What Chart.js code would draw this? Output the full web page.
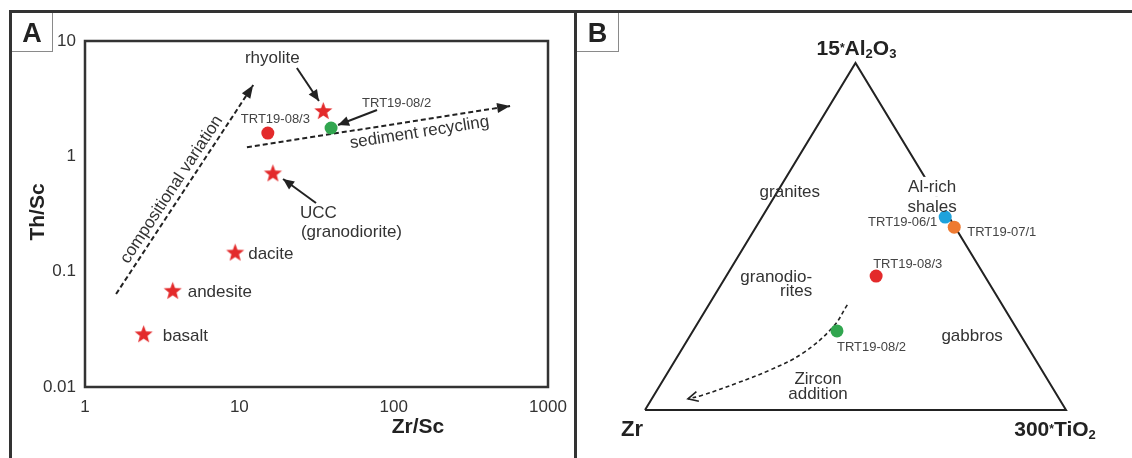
<!DOCTYPE html>
<html>
<head>
<meta charset="utf-8">
<title>Th/Sc vs Zr/Sc and 15Al2O3-300TiO2-Zr</title>
<script src="https://cdn.jsdelivr.net/npm/chart.js@4.4.1/dist/chart.umd.min.js"></script>
<style>
body { margin: 0; background: #fff; }
#wrap { position: relative; width: 1132px; height: 458px; overflow: hidden; font-family: "Liberation Sans", Arial, sans-serif; }
canvas { position: absolute; top: 0; }
#chartA { left: 0; }
#chartB { left: 577px; }
.line { position: absolute; background: #333; }
.tag { position: absolute; top: 13px; height: 38px; border-right: 1px solid #8a8a8a; border-bottom: 1px solid #8a8a8a;
       font-weight: bold; font-size: 27px; line-height: 40px; text-align: center; color: #222; }
</style>
</head>
<body>
<div id="wrap">
	<canvas id="chartA" width="574" height="458"></canvas>
	<canvas id="chartB" width="555" height="458"></canvas>
	<div class="line" style="left:9px;top:10px;width:1123px;height:3px"></div>
	<div class="line" style="left:9px;top:10px;width:3px;height:448px"></div>
	<div class="line" style="left:574px;top:10px;width:3px;height:448px"></div>
	<div class="tag" style="left:12px;width:40px">A</div>
	<div class="tag" style="left:577px;width:41px">B</div>
</div>
<script>
// ---- panel A : Th/Sc vs Zr/Sc (log-log) ----
const rockNames = ["basalt", "andesite", "dacite", "UCC", "rhyolite"];
const rockZrSc = [2.4, 3.7, 9.4, 16.5, 35];
const rockThSc = [0.029, 0.069, 0.148, 0.72, 2.5];
const sampleNamesA = ["TRT19-08/3", "TRT19-08/2"];
const sampleZrScA = [15.3, 39.3];
const sampleThScA = [1.59, 1.76];
const xTicksA = [1, 10, 100, 1000];
const yTicksA = [0.01, 0.1, 1, 10];
// trend arrows (start, end)
const compVarZr = [1.59, 12.3];
const compVarTh = [0.064, 4.15];
const sedRecZr = [11.2, 568];
const sedRecTh = [1.2, 2.73];
// pointer arrows: rhyolite, TRT19-08/2, UCC
const pointerZr = [[23.6, 32.8], [78, 43.6], [31.4, 19.2]];
const pointerTh = [[5.83, 3.02], [2.52, 1.87], [0.394, 0.636]];

// ---- panel B : 15*Al2O3 - 300*TiO2 - Zr ternary (fractions) ----
const ternNames = ["TRT19-06/1", "TRT19-07/1", "TRT19-08/3", "TRT19-08/2"];
const ternAl = [0.556, 0.527, 0.386, 0.228];
const ternTi = [0.435, 0.471, 0.356, 0.342];
const ternZr = [0.009, 0.002, 0.258, 0.430];
// zircon addition trend
const zirAl = [0.303, 0.239, 0.164, 0.115, 0.078, 0.043, 0.032];
const zirTi = [0.329, 0.327, 0.293, 0.239, 0.180, 0.116, 0.086];
const zirZr = [0.368, 0.434, 0.543, 0.646, 0.742, 0.841, 0.882];

const FONT = '"Liberation Sans", Arial, sans-serif';
const RED = "#e32a2b";
const GREEN = "#31a64f";
const BLUE = "#1ea2dc";
const ORANGE = "#ee7a31";
const INK = "#222";
const TXT = "#333";

function pairs(xs, ys) {
	return xs.map((v, i) => ({ x: v, y: ys[i] }));
}
// ternary -> cartesian (Zr at left, TiO2 at right, Al2O3 at top)
function tern(al, ti, zr) {
	let s = al + ti + zr;
	return { x: (ti + al / 2) / s, y: al / s };
}

function makeStar(r, color) {
	let c = document.createElement("canvas");
	c.width = c.height = Math.ceil(r * 2) + 2;
	let ctx = c.getContext("2d");
	let cx = c.width / 2, cy = c.height / 2 + r * 0.1;
	ctx.beginPath();
	for (let i = 0; i < 10; i++) {
		let rad = i % 2 ? r * 0.42 : r;
		let a = -Math.PI / 2 + i * Math.PI / 5;
		ctx.lineTo(cx + rad * Math.cos(a), cy + rad * Math.sin(a));
	}
	ctx.closePath();
	ctx.fillStyle = color;
	ctx.fill();
	return c;
}

function label(ctx, str, x, y, opt) {
	opt = opt || {};
	ctx.save();
	ctx.font = (opt.bold ? "bold " : "") + (opt.size || 17) + "px " + FONT;
	ctx.fillStyle = opt.color || TXT;
	ctx.textAlign = opt.align || "left";
	ctx.textBaseline = "middle";
	ctx.translate(x, y);
	if (opt.rot) ctx.rotate(opt.rot);
	ctx.fillText(str, 0, 0);
	ctx.restore();
}

// parts: [text, relative size, dy]
function richLabel(ctx, parts, cx, cy, size) {
	ctx.save();
	ctx.fillStyle = INK;
	ctx.textBaseline = "alphabetic";
	let w = 0;
	for (const p of parts) {
		ctx.font = "bold " + Math.round(size * p[1]) + "px " + FONT;
		w += ctx.measureText(p[0]).width;
	}
	let x = cx - w / 2;
	let base = cy + size * 0.36;
	for (const p of parts) {
		ctx.font = "bold " + Math.round(size * p[1]) + "px " + FONT;
		ctx.fillText(p[0], x, base + p[2]);
		x += ctx.measureText(p[0]).width;
	}
	ctx.restore();
}

function drawArrowHeads(chart) {
	let ctx = chart.ctx;
	chart.data.datasets.forEach((ds, i) => {
		if (!ds.arrow) return;
		let pts = chart.getDatasetMeta(i).data;
		let p1 = pts[pts.length - 2], p2 = pts[pts.length - 1];
		let a = Math.atan2(p2.y - p1.y, p2.x - p1.x);
		let len = ds.arrow == "open" ? 10 : (ds.headLen || 13);
		let half = ds.arrow == "open" ? 5 : (ds.headHalf || 5);
		let bx = p2.x - len * Math.cos(a), by = p2.y - len * Math.sin(a);
		ctx.save();
		ctx.beginPath();
		ctx.moveTo(bx + half * Math.sin(a), by - half * Math.cos(a));
		ctx.lineTo(p2.x, p2.y);
		ctx.lineTo(bx - half * Math.sin(a), by + half * Math.cos(a));
		if (ds.arrow == "open") {
			ctx.strokeStyle = INK;
			ctx.lineWidth = 1.6;
			ctx.stroke();
		} else {
			ctx.closePath();
			ctx.fillStyle = INK;
			ctx.fill();
		}
		ctx.restore();
	});
}

function lineAngle(chart, dsIndex) {
	let pts = chart.getDatasetMeta(dsIndex).data;
	let p1 = pts[0], p2 = pts[pts.length - 1];
	return { ang: Math.atan2(p2.y - p1.y, p2.x - p1.x), mx: (p1.x + p2.x) / 2, my: (p1.y + p2.y) / 2 };
}

// offsets of labels from their points (pixels)
const labelsA = [
	{ ds: 0, i: 0, text: rockNames[0], dx: 19, dy: 3 },
	{ ds: 0, i: 1, text: rockNames[1], dx: 15, dy: 2 },
	{ ds: 0, i: 2, text: rockNames[2], dx: 13, dy: 2 },
	{ ds: 0, i: 3, text: rockNames[3], dx: 27, dy: 41 },
	{ ds: 0, i: 3, text: "(granodiorite)", dx: 28, dy: 60 },
	{ ds: 0, i: 4, text: rockNames[4], dx: -51, dy: -52, align: "center" },
	{ ds: 1, i: 0, text: sampleNamesA[0], dx: -27, dy: -14, size: 13 },
	{ ds: 1, i: 1, text: sampleNamesA[1], dx: 31, dy: -25, size: 13 }
];

const panelA = {
	id: "panelA",
	afterDatasetsDraw(chart) {
		let ctx = chart.ctx, a = chart.chartArea;
		ctx.save();
		ctx.strokeStyle = "#333";
		ctx.lineWidth = 2.5;
		ctx.strokeRect(a.left, a.top, a.right - a.left, a.bottom - a.top);
		ctx.restore();
		drawArrowHeads(chart);

		for (const l of labelsA) {
			let p = chart.getDatasetMeta(l.ds).data[l.i];
			label(ctx, l.text, p.x + l.dx, p.y + l.dy, { align: l.align, size: l.size, color: l.size ? "#444" : TXT });
		}
		let cv = lineAngle(chart, 2);
		label(ctx, "compositional variation", cv.mx - 13, cv.my, { align: "center", rot: cv.ang });
		let sr = lineAngle(chart, 3);
		label(ctx, "sediment recycling", sr.mx + 41, sr.my + 6, { align: "center", rot: sr.ang });

		label(ctx, "Zr/Sc", a.left + 333, a.bottom + 40, { bold: true, size: 21, align: "center", color: INK });
		label(ctx, "Th/Sc", a.left - 47, (a.top + a.bottom) / 2 - 2, { bold: true, size: 21, align: "center", color: INK, rot: -Math.PI / 2 });
	}
};

const starImg = makeStar(9.5, RED);

let datasetsA = [
	{ data: pairs(rockZrSc, rockThSc), pointStyle: starImg, pointRadius: 9 },
	{ data: pairs(sampleZrScA, sampleThScA), pointStyle: "circle", pointRadius: 6.5, backgroundColor: [RED, GREEN], borderWidth: 0 },
	{ data: pairs(compVarZr, compVarTh), showLine: true, borderColor: INK, borderWidth: 2, borderDash: [5, 3], pointRadius: 0, arrow: "fill" },
	{ data: pairs(sedRecZr, sedRecTh), showLine: true, borderColor: INK, borderWidth: 2, borderDash: [5, 3], pointRadius: 0, arrow: "fill" }
];
for (let k = 0; k < pointerZr.length; k++) {
	datasetsA.push({ data: pairs(pointerZr[k], pointerTh[k]), showLine: true, borderColor: INK, borderWidth: 2,
		pointRadius: 0, arrow: "fill", headLen: 11, headHalf: 5 });
}

function logAxis(ticks, extra) {
	return Object.assign({
		type: "logarithmic",
		min: ticks[0],
		max: ticks[ticks.length - 1],
		afterBuildTicks: (s) => { s.ticks = ticks.map(v => ({ value: v })); },
		grid: { display: false, drawTicks: false },
		border: { display: false },
		ticks: { font: { size: 17, family: FONT }, color: TXT, autoSkip: false, maxRotation: 0, callback: (v) => String(v) }
	}, extra);
}

let xA = logAxis(xTicksA, { position: "bottom", afterFit: (s) => { s.height = 40; s.paddingLeft = 0; s.paddingRight = 0; } });
xA.ticks.padding = 10;
let yA = logAxis(yTicksA, { position: "left", afterFit: (s) => { s.width = 50; s.paddingTop = 0; s.paddingBottom = 0; } });
yA.ticks.padding = 9;

new Chart(document.getElementById("chartA"), {
	type: "scatter",
	data: { datasets: datasetsA },
	options: {
		responsive: false,
		animation: false,
		events: [],
		layout: { padding: { left: 35, right: 26, top: 41, bottom: 31 } },
		plugins: { legend: { display: false }, tooltip: { enabled: false } },
		scales: { x: xA, y: yA }
	},
	plugins: [panelA]
});

// ---- panel B ----
const regionLabelsB = [
	{ text: "granites", x: 0.344, y: 0.628, align: "center" },
	{ text: "granodio-", x: 0.397, y: 0.383, align: "right" },
	{ text: "rites", x: 0.397, y: 0.343, align: "right" },
	{ text: "Al-rich", x: 0.682, y: 0.643, align: "center", mask: true },
	{ text: "shales", x: 0.682, y: 0.585, align: "center", mask: true },
	{ text: "gabbros", x: 0.777, y: 0.213, align: "center" },
	{ text: "Zircon", x: 0.411, y: 0.089, align: "center" },
	{ text: "addition", x: 0.411, y: 0.046, align: "center" }
];
const sampleLabelB = [
	{ dx: -8, dy: 5, align: "right" },
	{ dx: 13, dy: 5, align: "left" },
	{ dx: -3, dy: -12, align: "left" },
	{ dx: 0, dy: 17, align: "left" }
];

const panelB = {
	id: "panelB",
	// after the triangle outline is drawn, clear the part of the edge hidden by the "Al-rich shales" label
	afterDatasetDraw(chart, args) {
		if (args.index !== 1) return;
		let ctx = chart.ctx, xs = chart.scales.x, ys = chart.scales.y;
		ctx.save();
		ctx.fillStyle = "#fff";
		for (const l of regionLabelsB) {
			if (!l.mask) continue;
			let px = xs.getPixelForValue(l.x), py = ys.getPixelForValue(l.y);
			ctx.fillRect(px - 27, py - 10, 56, 20);
		}
		ctx.restore();
	},
	afterDatasetsDraw(chart) {
		let ctx = chart.ctx, xs = chart.scales.x, ys = chart.scales.y;
		drawArrowHeads(chart);
		for (const l of regionLabelsB) {
			label(ctx, l.text, xs.getPixelForValue(l.x), ys.getPixelForValue(l.y), { align: l.align });
		}
		let pts = chart.getDatasetMeta(0).data;
		ternNames.forEach((n, i) => {
			let o = sampleLabelB[i];
			label(ctx, n, pts[i].x + o.dx, pts[i].y + o.dy, { size: 13, align: o.align, color: "#444" });
		});
		let tri = chart.getDatasetMeta(1).data;
		// tri: Zr, TiO2, Al2O3, Zr
		richLabel(ctx, [["15", 1, 0], ["*", 0.55, -3], ["Al", 1, 0], ["2", 0.6, 3], ["O", 1, 0], ["3", 0.6, 3]], tri[2].x + 1, tri[2].y - 16, 21);
		richLabel(ctx, [["Zr", 1, 0]], tri[0].x - 13, tri[0].y + 18, 22);
		richLabel(ctx, [["300", 1, 0], ["*", 0.55, -3], ["Ti", 1, 0], ["O", 1, 0], ["2", 0.6, 3]], tri[1].x - 11, tri[1].y + 18, 21);
	}
};

let ternPts = ternAl.map((v, i) => tern(v, ternTi[i], ternZr[i]));
let triPts = [tern(0, 0, 1), tern(0, 1, 0), tern(1, 0, 0), tern(0, 0, 1)];
let zirPts = zirAl.map((v, i) => tern(v, zirTi[i], zirZr[i]));

new Chart(document.getElementById("chartB"), {
	type: "scatter",
	data: {
		datasets: [
			{ data: ternPts, pointStyle: "circle", pointRadius: 6.5, backgroundColor: [BLUE, ORANGE, RED, GREEN], borderWidth: 0, clip: false },
			{ data: triPts, showLine: true, borderColor: INK, borderWidth: 2, pointRadius: 0, clip: false },
			{ data: zirPts, showLine: true, borderColor: INK, borderWidth: 1.6, borderDash: [4, 3], pointRadius: 0, tension: 0.4, arrow: "open", clip: false }
		]
	},
	options: {
		responsive: false,
		animation: false,
		events: [],
		layout: { padding: { left: 68, right: 66, top: 63, bottom: 48 } },
		plugins: { legend: { display: false }, tooltip: { enabled: false } },
		scales: {
			x: { type: "linear", min: 0, max: 1, display: false },
			y: { type: "linear", min: 0, max: 1, display: false }
		}
	},
	plugins: [panelB]
});
</script>
</body>
</html>
